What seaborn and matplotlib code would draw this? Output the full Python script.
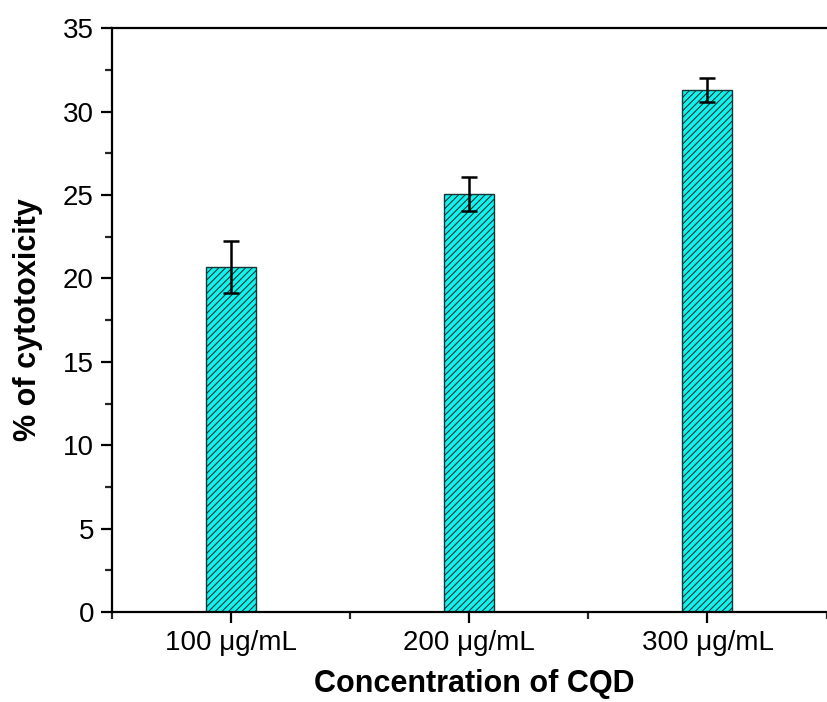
import numpy as np
import pandas as pd
import seaborn as sns
import matplotlib.pyplot as plt
from matplotlib.ticker import MultipleLocator, FixedLocator

# dados
concentracoes = ['100 μg/mL', '200 μg/mL', '300 μg/mL']
citotoxicidade = [20.7, 25.05, 31.3]
erro = [1.55, 1.0, 0.7]

df = pd.DataFrame({'conc': concentracoes, 'cit': citotoxicidade})

sns.set_style('ticks')
plt.rcParams['font.family'] = ['Liberation Sans', 'DejaVu Sans']
plt.rcParams['hatch.color'] = '#153535'
plt.rcParams['hatch.linewidth'] = 0.8

fig = plt.figure(figsize=(8.27, 7.02), dpi=100)
ax = fig.add_axes([0.1354, 0.128, 0.8756, 0.832])

sns.barplot(data=df, x='conc', y='cit', color='#10f4f0', width=0.21,
            edgecolor='#153535', linewidth=1.0, hatch='/////', saturation=1,
            errorbar=None, ax=ax)

pos = np.arange(len(concentracoes))
ax.errorbar(pos, citotoxicidade, yerr=erro, fmt='none', ecolor='black',
            elinewidth=1.8, capsize=6, capthick=1.8)

ax.set_xlim(-0.5, 2.54)
ax.set_ylim(0, 35)
ax.yaxis.set_major_locator(MultipleLocator(5))
ax.yaxis.set_minor_locator(MultipleLocator(2.5))
ax.xaxis.set_minor_locator(FixedLocator([-0.5, 0.5, 1.5, 2.5]))

for s in ax.spines.values():
    s.set_linewidth(1.6)
    s.set_color('black')

ax.tick_params(axis='both', which='major', direction='out', length=8, width=1.6,
               labelsize=20, colors='black', labelcolor='black', pad=5)
ax.tick_params(axis='both', which='minor', direction='out', length=5, width=1.6)
ax.tick_params(top=False, right=False, which='both')

ax.set_xlabel('Concentration of CQD', fontsize=22, fontweight='bold',
              labelpad=9, color='black')
ax.set_ylabel('% of cytotoxicity', fontsize=22, fontweight='bold',
              labelpad=14, color='black')

plt.savefig('out.png', dpi=100)
